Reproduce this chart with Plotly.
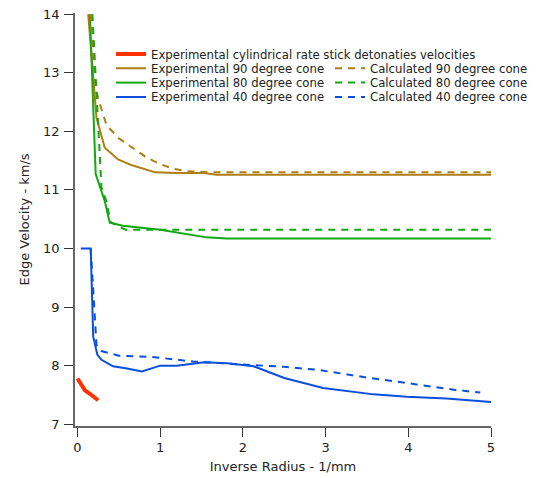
import plotly.graph_objects as go

# ---- data ----
red_x = [0.0, 0.04, 0.09, 0.15, 0.20, 0.25]
red_y = [7.78, 7.70, 7.58, 7.52, 7.47, 7.41]

brown_x = [0.13, 0.23, 0.33, 0.49, 0.66, 0.80, 0.94, 1.20, 1.53, 1.68, 5.0]
brown_y = [14.0, 12.23, 11.72, 11.52, 11.42, 11.36, 11.30, 11.29, 11.29, 11.26, 11.26]
brown_calc_x = [0.16, 0.21, 0.26, 0.35, 0.49, 0.66, 0.84, 1.00, 1.16, 1.32, 1.60, 5.0]
brown_calc_y = [14.0, 12.79, 12.51, 12.11, 11.89, 11.72, 11.55, 11.44, 11.36, 11.32, 11.30, 11.30]

green_x = [0.15, 0.22, 0.33, 0.39, 0.55, 1.00, 1.56, 1.80, 5.0]
green_y = [14.0, 11.27, 10.81, 10.44, 10.39, 10.32, 10.19, 10.17, 10.17]
green_calc_x = [0.18, 0.29, 0.35, 0.40, 0.58, 5.0]
green_calc_y = [14.0, 11.04, 10.80, 10.45, 10.32, 10.32]

blue_x = [0.04, 0.16, 0.19, 0.24, 0.29, 0.43, 0.60, 0.78, 1.00, 1.20, 1.53, 1.81,
          2.13, 2.50, 2.97, 3.58, 3.98, 4.46, 5.0]
blue_y = [10.0, 10.0, 8.50, 8.19, 8.10, 7.99, 7.95, 7.90, 8.00, 8.00, 8.06, 8.04,
          7.99, 7.79, 7.62, 7.51, 7.47, 7.44, 7.38]
blue_calc_x = [0.16, 0.20, 0.23, 0.29, 0.50, 0.90, 1.40, 2.00, 2.50, 2.90, 3.22,
               3.58, 4.10, 4.55, 4.87]
blue_calc_y = [10.0, 9.10, 8.35, 8.25, 8.17, 8.15, 8.07, 8.02, 7.98, 7.93, 7.86,
               7.78, 7.68, 7.59, 7.54]

RED = "#ff3300"
BROWN = "#b07d12"
GREEN = "#12a812"
BLUE = "#0a4fdc"
DASH = "7px,6px"
FONT = "DejaVu Sans"

# The page body margin shifts the figure by OFF px on screen; the figure is made a
# little wider than the window so the right-hand legend column never pushes the
# plot margins (the extra width falls outside the photographed window).
OFF = 8
W, H = 560, 478
ML, MT, MB = 75 - OFF, 13 - OFF, 52 + OFF
MR = W - (491 - OFF)
PW, PH = W - ML - MR, H - MT - MB

def screen2paper(px, py):
    return (px - OFF - ML) / PW, 1 - (py - OFF - MT) / PH

fig = go.Figure()

# each legend entry gets its own legend box so rows sit as close as in the reference
entries = [
    (red_x, red_y, "Experimental cylindrical rate stick detonaties velocities", RED, None, 4, 111, 54),
    (brown_x, brown_y, "Experimental 90 degree cone", BROWN, None, 2, 111, 68.3),
    (green_x, green_y, "Experimental 80 degree cone", GREEN, None, 2, 111, 82.6),
    (blue_x, blue_y, "Experimental 40 degree cone", BLUE, None, 2, 111, 96.9),
    (brown_calc_x, brown_calc_y, "Calculated 90 degree cone", BROWN, DASH, 2, 330, 68.3),
    (green_calc_x, green_calc_y, "Calculated 80 degree cone", GREEN, DASH, 2, 330, 82.6),
    (blue_calc_x, blue_calc_y, "Calculated 40 degree cone", BLUE, DASH, 2, 330, 96.9),
]

legends = {}
for i, (x, y, name, color, dash, width, lx, ly) in enumerate(entries):
    key = "legend" if i == 0 else f"legend{i + 1}"
    fig.add_trace(go.Scatter(
        x=x, y=y, mode="lines", name=name, legend=key,
        line=dict(color=color, width=width, dash=dash if dash else "solid"),
    ))
    cx, cy = screen2paper(lx, ly)
    legends[key] = dict(x=cx, y=cy, xanchor="left", yanchor="middle",
                        font=dict(family=FONT, size=11.7, color="#222"),
                        bgcolor="rgba(0,0,0,0)", borderwidth=0)

fig.update_layout(
    width=W, height=H,
    margin=dict(l=ML, r=MR, t=MT, b=MB),
    paper_bgcolor="white", plot_bgcolor="white",
    font=dict(family=FONT, size=13, color="#222"),
    showlegend=True,
    xaxis=dict(range=[-0.03, 5.0], dtick=1, tick0=0, showgrid=False, zeroline=False,
               showline=True, linecolor="#666", linewidth=1.5, automargin=False,
               ticks="outside", ticklen=9, tickcolor="#333", ticklabelstandoff=0,
               ticklabeloverflow="allow",
               title=dict(text="Inverse Radius - 1/mm", font=dict(size=13), standoff=8)),
    yaxis=dict(range=[6.97, 14.02], dtick=1, tick0=7, showgrid=False, zeroline=False,
               showline=True, linecolor="#666", linewidth=1.5, automargin=False,
               ticks="outside", ticklen=9, tickcolor="#333", ticklabelstandoff=2,
               ticklabeloverflow="allow",
               title=dict(text="Edge Velocity - km/s", font=dict(size=13), standoff=11)),
    **legends,
)

fig.write_html("out.html")
